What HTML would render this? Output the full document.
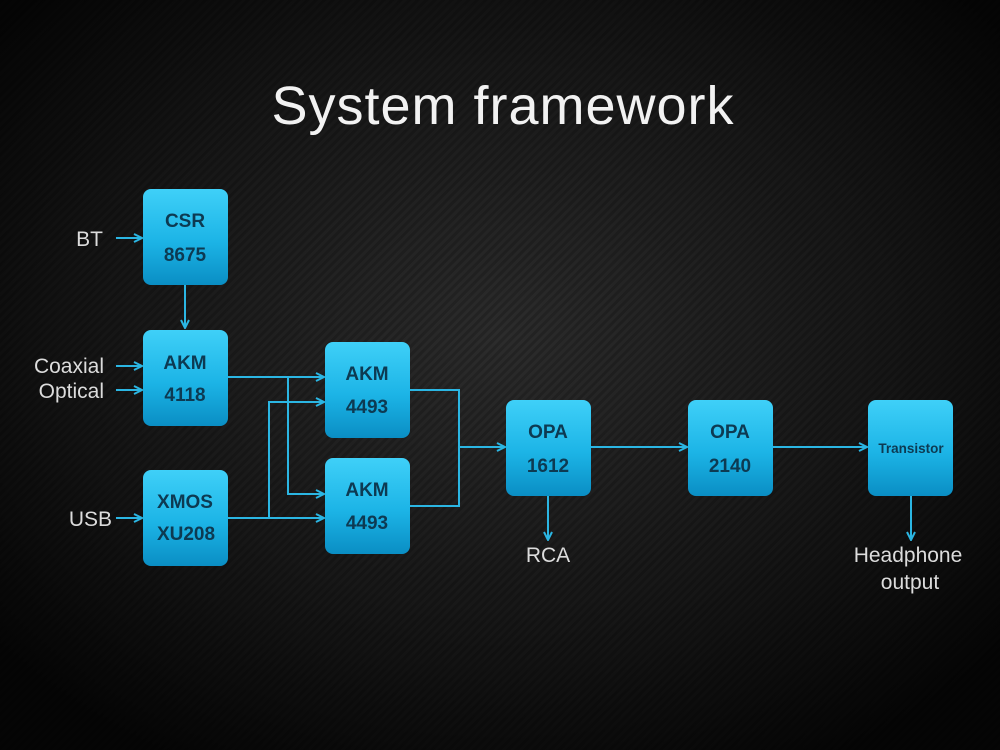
<!DOCTYPE html>
<html><head><meta charset="utf-8"><style>
html,body{margin:0;padding:0;background:#0b0b0b;}
svg{display:block}
</style></head><body>
<svg width="1000" height="750" viewBox="0 0 1000 750" xmlns="http://www.w3.org/2000/svg">
<defs>
<radialGradient id="bg" cx="0.5" cy="0.45" r="0.65">
<stop offset="0" stop-color="#2c2c2c"/><stop offset="0.6" stop-color="#161616"/><stop offset="1" stop-color="#050505"/>
</radialGradient>
<pattern id="stripes" width="6" height="6" patternUnits="userSpaceOnUse" patternTransform="rotate(-45)">
<rect width="6" height="3" fill="#000" opacity="0.18"/>
</pattern>
<linearGradient id="box" x1="0" y1="0" x2="0" y2="1">
<stop offset="0" stop-color="#3fd0f8"/><stop offset="0.55" stop-color="#1cb4e6"/><stop offset="1" stop-color="#0a8ec4"/>
</linearGradient>
<marker id="ar" markerWidth="10" markerHeight="10" refX="9" refY="5" orient="auto" markerUnits="userSpaceOnUse">
<path d="M1,1 L9,5 L1,9" fill="none" stroke="#2bb6e3" stroke-width="2"/>
</marker>
</defs>
<rect width="1000" height="750" fill="url(#bg)"/>
<rect width="1000" height="750" fill="url(#stripes)"/>
<text x="503" y="124" text-anchor="middle" font-family="Liberation Sans, sans-serif" font-size="54" fill="#f2f2f2" font-weight="300" letter-spacing="1">System framework</text>

<g fill="url(#box)">
<rect x="143" y="189" width="85" height="96" rx="8"/>
<rect x="143" y="330" width="85" height="96" rx="8"/>
<rect x="143" y="470" width="85" height="96" rx="8"/>
<rect x="325" y="342" width="85" height="96" rx="8"/>
<rect x="325" y="458" width="85" height="96" rx="8"/>
<rect x="506" y="400" width="85" height="96" rx="8"/>
<rect x="688" y="400" width="85" height="96" rx="8"/>
<rect x="868" y="400" width="85" height="96" rx="8"/>
</g>

<g stroke="#2bb6e3" stroke-width="2" fill="none">
<line x1="116" y1="238" x2="142" y2="238" marker-end="url(#ar)"/>
<line x1="116" y1="366" x2="142" y2="366" marker-end="url(#ar)"/>
<line x1="116" y1="390" x2="142" y2="390" marker-end="url(#ar)"/>
<line x1="116" y1="518" x2="142" y2="518" marker-end="url(#ar)"/>
<line x1="185" y1="285" x2="185" y2="328" marker-end="url(#ar)"/>
<line x1="228" y1="377" x2="324" y2="377" marker-end="url(#ar)"/>
<polyline points="288,377 288,494 324,494" marker-end="url(#ar)"/>
<line x1="228" y1="518" x2="324" y2="518" marker-end="url(#ar)"/>
<polyline points="269,518 269,402 324,402" marker-end="url(#ar)"/>
<polyline points="410,390 459,390 459,506 410,506"/>
<line x1="459" y1="447" x2="505" y2="447" marker-end="url(#ar)"/>
<line x1="591" y1="447" x2="687" y2="447" marker-end="url(#ar)"/>
<line x1="773" y1="447" x2="867" y2="447" marker-end="url(#ar)"/>
<line x1="548" y1="496" x2="548" y2="540" marker-end="url(#ar)"/>
<line x1="911" y1="496" x2="911" y2="540" marker-end="url(#ar)"/>
</g>

<g font-family="Liberation Sans, sans-serif" font-size="21" fill="#dcdcdc" text-anchor="end">
<text x="103" y="246">BT</text>
<text x="104" y="373">Coaxial</text>
<text x="104" y="398">Optical</text>
<text x="112" y="526">USB</text>
</g>
<g font-family="Liberation Sans, sans-serif" font-size="21" fill="#dcdcdc" text-anchor="middle">
<text x="548" y="562">RCA</text>
<text x="908" y="562">Headphone</text>
<text x="910" y="589">output</text>
</g>

<g font-family="Liberation Sans, sans-serif" font-weight="bold" font-size="19" fill="#0d3a52" text-anchor="middle">
<text x="185" y="227">CSR</text><text x="185" y="261">8675</text>
<text x="185" y="369">AKM</text><text x="185" y="401">4118</text>
<text x="185" y="508">XMOS</text><text x="186" y="540">XU208</text>
<text x="367" y="380">AKM</text><text x="367" y="413">4493</text>
<text x="367" y="496">AKM</text><text x="367" y="529">4493</text>
<text x="548" y="438">OPA</text><text x="548" y="472">1612</text>
<text x="730" y="438">OPA</text><text x="730" y="472">2140</text>
<text x="911" y="453" font-size="13.5">Transistor</text>
</g>
</svg>
</body></html>
